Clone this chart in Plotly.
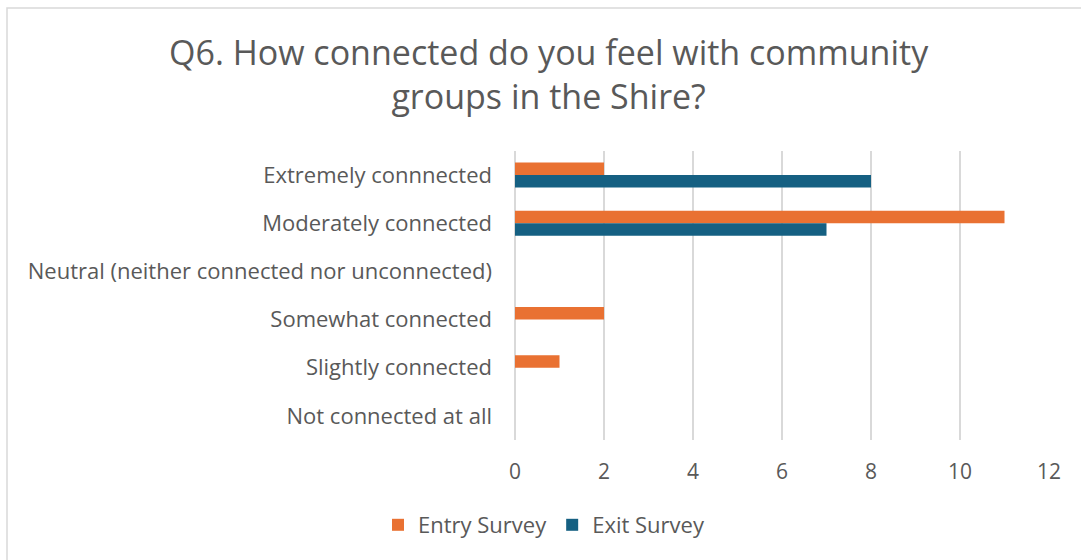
import plotly.graph_objects as go

categories = [
    "Extremely connnected",
    "Moderately connected",
    "Neutral (neither connected nor unconnected)",
    "Somewhat connected",
    "Slightly connected",
    "Not connected at all",
]
entry_survey = [2, 11, 0, 2, 1, 0]
exit_survey = [8, 7, 0, 0, 0, 0]
x_ticks = [0, 2, 4, 6, 8, 10, 12]

W, H = 1081, 560
L, R, T, B = 515, 1049, 151, 440

FONT = "Open Sans, Lato, sans-serif"
TXT = "#595959"

fig = go.Figure()
fig.add_trace(go.Bar(y=categories, x=entry_survey, orientation="h", name="Entry Survey",
                     marker=dict(color="#E97132", line=dict(width=0))))
fig.add_trace(go.Bar(y=categories, x=exit_survey, orientation="h", name="Exit Survey",
                     marker=dict(color="#156082", line=dict(width=0))))

def px_x(p):
    return (p - L) / (R - L)

def px_y(p):
    return (B - p) / (B - T)

fig.update_layout(
    width=W, height=H,
    margin=dict(l=L, r=W - R, t=T, b=H - B, pad=0),
    paper_bgcolor="white", plot_bgcolor="white",
    barmode="group", bargap=0.48, bargroupgap=0,
    font=dict(family=FONT, color=TXT, size=22),
    xaxis=dict(range=[0, 12], tickvals=x_ticks, showgrid=True, gridcolor="#D9D9D9", gridwidth=1.5,
               zeroline=True, zerolinecolor="#D9D9D9", zerolinewidth=1.5, showline=False,
               ticks="", ticklabelstandoff=17, tickfont=dict(size=21, color=TXT)),
    yaxis=dict(autorange="reversed", showgrid=False, zeroline=False, showline=False, ticks="",
               ticklabelstandoff=22, tickfont=dict(size=22, color=TXT)),
    legend=dict(orientation="h", x=px_x(378), xanchor="left", y=px_y(525), yanchor="middle",
                font=dict(size=22, color=TXT), itemwidth=30, tracegroupgap=0,
                bgcolor="rgba(0,0,0,0)"),
    showlegend=True,
    annotations=[dict(text="Q6. How connected do you feel with community<br>groups in the Shire?",
                      xref="paper", yref="paper", x=px_x(549), y=px_y(74),
                      xanchor="center", yanchor="middle", showarrow=False,
                      font=dict(size=34, color=TXT, family=FONT))],
    shapes=[dict(type="rect", xref="paper", yref="paper",
                 x0=px_x(7), x1=px_x(1100), y0=px_y(580), y1=px_y(8),
                 line=dict(color="#D9D9D9", width=1.5), fillcolor="rgba(0,0,0,0)", layer="below")],
)

fig.write_html("out.html")
